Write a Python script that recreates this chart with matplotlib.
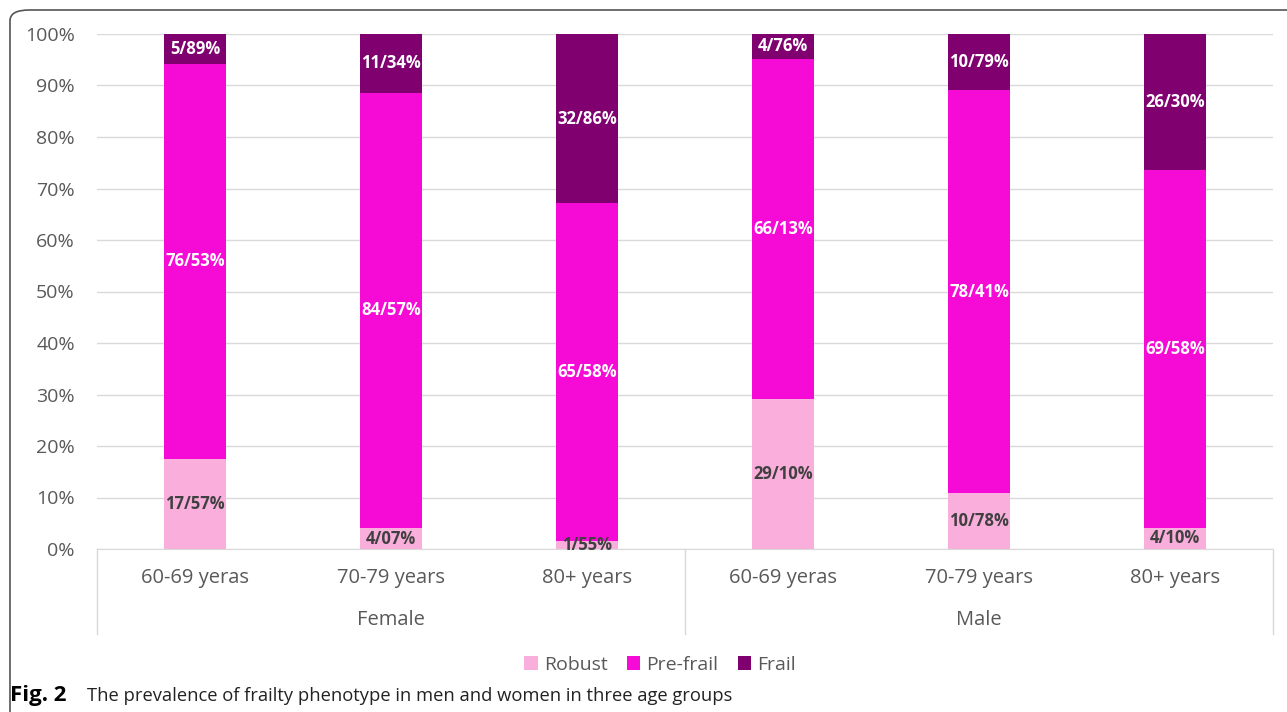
import matplotlib.pyplot as plt
from matplotlib.patches import FancyBboxPatch
from matplotlib.lines import Line2D

# data (labels in the source use "/" as decimal separator)
ages = ["60-69 yeras", "70-79 years", "80+ years", "60-69 yeras", "70-79 years", "80+ years"]
groups = ["Female", "Male"]
robust = [17.57, 4.07, 1.55, 29.10, 10.78, 4.10]
prefrail = [76.53, 84.57, 65.58, 66.13, 78.41, 69.58]
frail = [5.89, 11.34, 32.86, 4.76, 10.79, 26.30]

series = ["Robust", "Pre-frail", "Frail"]
colors = ["#F9AEDC", "#F50AD6", "#800070"]
label_colors = ["#404040", "white", "white"]

plt.rcParams['font.family'] = ['Open Sans', 'DejaVu Sans']

W, H = 1287, 712
fig = plt.figure(figsize=(W / 100, H / 100), dpi=100)

# frame round the figure panel
frame = FancyBboxPatch((10 / W, -30 / H), (W + 40) / W, (H - 10 + 30) / H,
                       boxstyle="round,pad=0,rounding_size=0.015",
                       transform=fig.transFigure, fill=False,
                       edgecolor="#555555", linewidth=1.2)
fig.add_artist(frame)

ax = fig.add_axes([97 / W, 1 - 549 / H, (1273 - 97) / W, (549 - 34) / H])

x = list(range(len(ages)))
bottoms = [0] * len(ages)
for vals, name, c, lc in zip([robust, prefrail, frail], series, colors, label_colors):
    bars = ax.bar(x, vals, width=0.32, bottom=bottoms, color=c, label=name, zorder=2)
    for b, v, bt in zip(bars, vals, bottoms):
        txt = ("%.2f" % v).replace(".", "/") + "%"
        ax.text(b.get_x() + b.get_width() / 2, bt + v / 2, txt, ha="center", va="center",
                color=lc, fontsize=12, fontweight="bold", zorder=3)
    bottoms = [a + b for a, b in zip(bottoms, vals)]

ax.set_xlim(-0.5, 5.5)
ax.set_ylim(0, 100)
ax.set_yticks(range(0, 101, 10))
ax.set_yticklabels(["%d%%" % t for t in range(0, 101, 10)], fontsize=14, color="#595959")
ax.yaxis.grid(True, color="#D9D9D9", linewidth=1, zorder=0)
ax.tick_params(axis="y", length=0, pad=16)
ax.set_xticks([])
for s in ["top", "right", "left"]:
    ax.spines[s].set_visible(False)
ax.spines["bottom"].set_color("#D9D9D9")

# two-level category axis
tr = ax.get_xaxis_transform()
depth = -(634 - 549) / (549 - 34)
for xv in [-0.5, 2.5, 5.5]:
    ax.add_line(Line2D([xv, xv], [0, depth], transform=tr, color="#D9D9D9",
                       linewidth=1, clip_on=False))
for xi, lab in zip(x, ages):
    ax.text(xi, -(578 - 549) / (549 - 34), lab, transform=tr, ha="center", va="center",
            fontsize=14.5, color="#595959")
for gi, g in enumerate(groups):
    ax.text(1 + 3 * gi, -(620 - 549) / (549 - 34), g, transform=tr, ha="center",
            va="center", fontsize=14.5, color="#595959")

ax.legend(loc="center", bbox_to_anchor=((660 - 97) / 1176, -(665 - 549) / (549 - 34)), ncol=3,
          frameon=False, fontsize=14, handlelength=0.7, handleheight=0.7,
          handletextpad=0.3, columnspacing=1.0, labelcolor="#595959")

fig.text(10 / W, 1 - 696 / H, "Fig. 2", fontsize=16, fontweight="bold", va="center")
fig.text(87 / W, 1 - 696 / H, "The prevalence of frailty phenotype in men and women in three age groups",
         fontsize=13.2, va="center", color="#222222")

fig.savefig("out.png", dpi=100)
